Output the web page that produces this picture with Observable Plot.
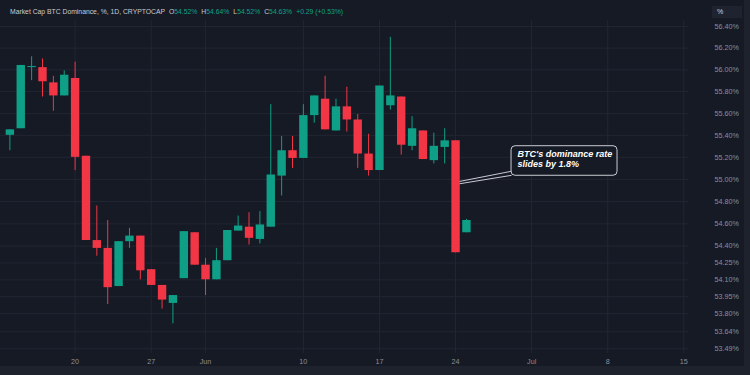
<!DOCTYPE html>
<html><head><meta charset="utf-8">
<script src="https://cdn.jsdelivr.net/npm/d3@7"></script>
<script src="https://cdn.jsdelivr.net/npm/@observablehq/plot@0.6"></script>
<style>
html,body{margin:0;padding:0;background:#1e222c;width:750px;height:375px;overflow:hidden;}
#wrap{position:relative;width:750px;height:375px;background:#1e222c;}
#chart svg{display:block;}
#hdr{position:absolute;left:10px;top:8px;font:6.8px "Liberation Sans",Arial,sans-serif;color:#c9ccd4;white-space:pre;line-height:8px;}
#hdr .v{color:#0fa287;}
#hdr .k{color:#c9ccd4;margin-left:4px;}
#unit{position:absolute;left:712px;top:6px;width:30px;height:12px;background:#1f2330;font:7px "Liberation Sans",Arial,sans-serif;color:#d1d4dc;line-height:12px;padding-left:5px;box-sizing:border-box;}
</style></head>
<body><div id="wrap"><div id="chart"></div><div id="hdr"></div><div id="unit">%</div></div>
<script>
// ---- data ----
const dates = ["2024-05-14","2024-05-15","2024-05-16","2024-05-17","2024-05-18","2024-05-19","2024-05-20","2024-05-21","2024-05-22","2024-05-23","2024-05-24","2024-05-25","2024-05-26","2024-05-27","2024-05-28","2024-05-29","2024-05-30","2024-05-31","2024-06-01","2024-06-02","2024-06-03","2024-06-04","2024-06-05","2024-06-06","2024-06-07","2024-06-08","2024-06-09","2024-06-10","2024-06-11","2024-06-12","2024-06-13","2024-06-14","2024-06-15","2024-06-16","2024-06-17","2024-06-18","2024-06-19","2024-06-20","2024-06-21","2024-06-22","2024-06-23","2024-06-24","2024-06-25"];
const open  = [55.40,55.46,56.02,56.02,55.88,55.76,55.92,55.21,54.45,54.38,54.04,54.44,54.49,54.19,54.05,53.89,54.11,54.52,54.23,54.10,54.27,54.535,54.57,54.46,54.57,55.03,55.26,55.19,55.58,55.73,55.44,55.66,55.54,55.23,55.08,55.67,55.75,55.30,55.44,55.17,55.29,55.35,54.52];
const high  = [55.45,56.04,56.12,56.10,55.94,55.99,56.07,55.21,54.76,54.63,54.44,54.56,54.49,54.19,54.05,53.96,54.53,54.52,54.29,54.38,54.54,54.67,54.70,54.71,55.68,55.39,55.39,55.68,55.76,55.94,55.73,55.84,55.59,55.41,55.85,56.30,55.75,55.57,55.44,55.42,55.46,55.35,54.64];
const low   = [55.26,55.46,55.90,55.75,55.62,55.76,55.08,54.45,54.31,53.88,54.04,54.38,54.10,54.05,53.84,53.71,54.11,54.23,53.96,54.10,54.27,54.535,54.41,54.42,54.57,54.85,55.10,55.19,55.51,55.45,55.44,55.43,55.10,55.03,55.08,55.63,55.22,55.26,55.18,55.14,55.14,54.34,54.52];
const close = [55.45,56.04,56.03,55.89,55.76,55.95,55.20,54.45,54.38,54.03,54.44,54.49,54.18,54.05,53.92,53.96,54.53,54.23,54.10,54.27,54.54,54.58,54.47,54.59,55.04,55.26,55.19,55.58,55.76,55.45,55.66,55.54,55.23,55.08,55.85,55.76,55.31,55.46,55.18,55.30,55.35,54.34,54.63];
const yTicks = [56.40,56.20,56.00,55.80,55.60,55.40,55.20,55.00,54.80,54.60,54.40,54.25,54.10,53.95,53.80,53.64,53.49];
const xTickDates = ["2024-05-20","2024-05-27","2024-06-01","2024-06-10","2024-06-17","2024-06-24","2024-07-01","2024-07-08","2024-07-15"];
const xTickLabels = ["20","27","Jun","10","17","24","Jul","8","15"];
const title = "Market Cap BTC Dominance, %, 1D, CRYPTOCAP";
const noteLines = ["BTC's dominance rate", "slides by 1.8%"];
const noteAnchorDate = "2024-06-24T09:00Z";
const noteAnchorValues = [54.982, 54.961];
const noteBox = {x1: "2024-06-29T03:36Z", x2: "2024-07-08T21:36Z", top: 55.301, bottom: 55.033};
const noteJoinValues = [55.074, 55.037];

// ---- build ----
const GREEN = "#0e9f86", RED = "#f23645", BG = "#161a25", GRID = "#222633", AXIS = "#8b8f99";
const candles = dates.map((d, i) => ({date: new Date(d), open: open[i], high: high[i], low: low[i], close: close[i], up: close[i] >= open[i]}));
const tickDates = xTickDates.map(d => new Date(d));
const labelOf = new Map(tickDates.map((d, i) => [+d, xTickLabels[i]]));
const fmtPct = v => v.toFixed(2) + "%";

const chart = Plot.plot({
  width: 744, height: 366,
  marginLeft: 0, marginRight: 56, marginTop: 20, marginBottom: 13,
  style: {background: BG, fontFamily: "'Liberation Sans', Arial, sans-serif", overflow: "visible"},
  x: {type: "utc", domain: [new Date("2024-05-13T03:17Z"), new Date("2024-07-15T10:19Z")]},
  y: {type: "log", domain: [53.4486, 56.4556]},
  marks: [
    Plot.gridY(yTicks, {stroke: GRID, strokeOpacity: 1}),
    Plot.gridX(tickDates, {stroke: GRID, strokeOpacity: 1}),
    Plot.axisY(yTicks, {anchor: "right", tickSize: 0, tickPadding: 26, tickFormat: fmtPct, fill: AXIS, fontSize: 7.2, label: null}),
    Plot.axisX(tickDates, {anchor: "bottom", tickSize: 0, tickPadding: 5, tickFormat: d => labelOf.get(+d), fill: AXIS, fontSize: 7.2, label: null}),
    Plot.ruleX(candles, {x: "date", y1: "low", y2: "high", stroke: d => d.up ? GREEN : RED, strokeWidth: 1}),
    Plot.ruleX(candles, {x: "date", y1: "open", y2: "close", stroke: d => d.up ? GREEN : RED, strokeWidth: 8.4}),
    // callout
    Plot.rect([noteBox], {x1: d => new Date(d.x1), x2: d => new Date(d.x2), y1: "top", y2: "bottom", fill: BG, stroke: "#c9cbd1", strokeWidth: 1, rx: 4}),
    Plot.link([0, 1], {x1: () => new Date(noteAnchorDate), y1: i => noteAnchorValues[i], x2: () => new Date(noteBox.x1), y2: i => noteJoinValues[i], stroke: "#c9cbd1", strokeWidth: 1}),
    Plot.text([noteLines.join("\n")], {x: () => new Date(noteBox.x1), y: () => noteBox.top, dx: 6, dy: 4, textAnchor: "start", lineAnchor: "top", lineHeight: 1.1, fill: "#ffffff", fontSize: 9, fontWeight: "bold", fontStyle: "italic", fontFamily: "'Liberation Sans', Arial, sans-serif"})
  ]
});
document.getElementById("chart").appendChild(chart);

// header
const last = candles[candles.length - 1], prev = candles[candles.length - 2];
const chg = last.close - prev.close;
const sign = chg >= 0 ? "+" : "";
const hdr = document.getElementById("hdr");
hdr.innerHTML = `<span>${title}</span>` +
  `<span class="k">O</span><span class="v">${fmtPct(last.open)}</span>` +
  `<span class="k">H</span><span class="v">${fmtPct(last.high)}</span>` +
  `<span class="k">L</span><span class="v">${fmtPct(last.low)}</span>` +
  `<span class="k">C</span><span class="v">${fmtPct(last.close)}</span>` +
  `<span class="v" style="margin-left:4px">${sign}${chg.toFixed(2)} (${sign}${(chg / prev.close * 100).toFixed(2)}%)</span>`;
</script>
</body></html>
